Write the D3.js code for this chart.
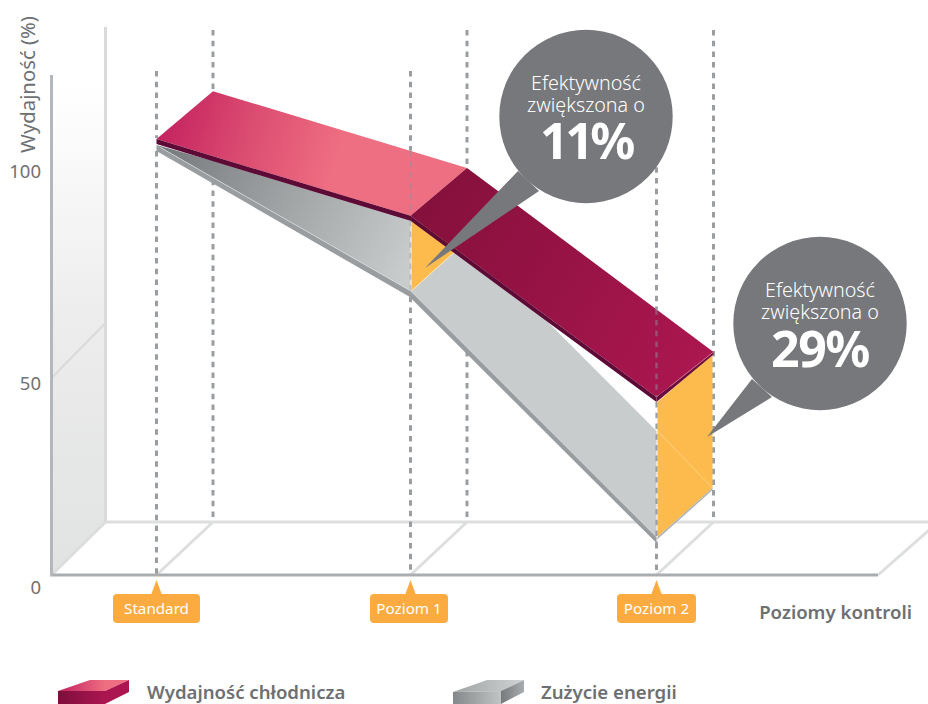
<!DOCTYPE html>
<html><head><meta charset="utf-8">
<script src="https://cdn.jsdelivr.net/npm/d3@7/dist/d3.min.js"></script>
<style>
html,body{margin:0;padding:0;background:#fff}
svg{display:block}
text{font-family:"Noto Sans",sans-serif}
</style></head><body>
<script>
// ---- data ----
const levels = ["Standard", "Poziom 1", "Poziom 2"];
const coolingFront = [104.7, 86.6, 43.6];
const coolingBack  = [116.0, 97.9, 54.5];
const energyFront  = [103.3, 68.9, 9.3];
const energyBack   = [116.3, 80.7, 21.3];
const yTicks = [0, 50, 100];
const bubbles = [
  {line1:"Efektywność", line2:"zwiększona o", pct:"11%"},
  {line1:"Efektywność", line2:"zwiększona o", pct:"29%"}
];
const legendItems = ["Wydajność chłodnicza", "Zużycie energii"];
const xTitle = "Poziomy kontroli", yTitle = "Wydajność (%)";

// ---- layout ----
const W = 928, H = 704;
const x = d3.scaleLinear().domain([0,1,2]).range([156.5,410.5,656.5]);
const xb = d3.scaleLinear().domain([0,1,2]).range([213,467,713.5]);
const y = d3.scaleLinear().domain([0,50,100]).range([575,371,159]);
const wallX = 51.5, wallBackX = 105.5, floorBackY = 522, floorRightX = 878;
const stripC = 5, stripE = 6;
const idx = [0,1,2];

const svg = d3.select("body").append("svg").attr("width",W).attr("height",H).attr("viewBox",`0 0 ${W} ${H}`);
const defs = svg.append("defs");
function grad(id,x1,y1,x2,y2,stops){
  const g = defs.append("linearGradient").attr("id",id).attr("gradientUnits","userSpaceOnUse")
    .attr("x1",x1).attr("y1",y1).attr("x2",x2).attr("y2",y2);
  stops.forEach(s=>g.append("stop").attr("offset",s[0]).attr("stop-color",s[1]));
}
grad("gPink",156,140,330,190,[[0,"#c4225f"],[.45,"#da4a70"],[1,"#ef6f82"]]);
grad("gCrim",411,200,714,370,[[0,"#84103b"],[1,"#ad1750"]]);
grad("gGrey",170,140,410,265,[[0,"#787b7e"],[.55,"#a6a9aa"],[1,"#c8cccc"]]);
grad("gWall",0,85,0,575,[[0,"#ffffff"],[.5,"#ececec"],[1,"#e1e2e2"]]);
grad("gLegR1",58,0,105,0,[[0,"#7d0f3c"],[1,"#ab1650"]]);
grad("gLegR2",60,0,125,0,[[0,"#c4225f"],[.7,"#ef6f82"],[1,"#ef6f82"]]);
grad("gLegG1",453,0,500,0,[[0,"#85888a"],[1,"#c0c3c3"]]);
grad("gLegG2",460,0,524,0,[[0,"#a5a8a9"],[1,"#d0d3d3"]]);
grad("gLegG3",501,0,524,0,[[0,"#777a7d"],[1,"#a9acae"]]);

const poly = (pts,fill,g=svg) => g.append("polygon").attr("points",pts.map(p=>p.join(",")).join(" ")).attr("fill",fill);
const line = (x1,y1,x2,y2,c,w=3) => svg.append("line").attr("x1",x1).attr("y1",y1).attr("x2",x2).attr("y2",y2).attr("stroke",c).attr("stroke-width",w);

// wall
poly([[wallX,85],[wallBackX,85],[wallBackX,floorBackY],[wallX,575]],"url(#gWall)");
line(wallX,378,wallBackX,323,"#d9dada",2);
line(wallBackX,27,wallBackX,floorBackY,"#d9dbdb",3);
// floor
line(wallX,575,wallBackX,floorBackY,"#dcdddd",3);
line(wallBackX,floorBackY,W,floorBackY,"#dddede",3);
line(floorRightX,575,W+1,530,"#dddede",3);
idx.forEach(i=>line(x(i),575,xb(i),floorBackY,"#dddede",3));

// dashed back guides (behind the surfaces)
const dash = (px,y1,y2) => line(px,y1,px,y2,"#9a9ea1",3).attr("stroke-dasharray","5.5 5.2");
idx.forEach(i=>dash(xb(i),30,floorBackY));

// where the energy back edge crosses the front guide of level 2
const energyBackAtL2 = y(energyBack[2]) + (x(2)-xb(2))*(y(energyBack[2])-y(energyBack[1]))/(xb(2)-xb(1));

// energy surface
poly([[x(0),y(energyFront[0])],[x(1),y(coolingFront[1])],[x(1),y(energyFront[1])]],"url(#gGrey)");
poly([[x(1),y(energyFront[1])],[xb(1),y(energyBack[1])],[x(2),energyBackAtL2],[x(2),y(energyFront[2])]],"#c8cccc");
// energy edge strip
poly([[x(0),y(energyFront[0])],[x(1),y(energyFront[1])],[x(2),y(energyFront[2])],[x(2),y(energyFront[2])+stripE],[x(1)-1,y(energyFront[1])+stripE],[x(0),y(energyFront[0])+stripE]],"#9a9d9f");
line(x(0)+4,y(energyFront[0])+2.5,x(1),y(energyFront[1]),"#ffffff",.6).attr("opacity",.7);
line(x(1),y(energyFront[1]),x(2),y(energyFront[2]),"#dfe1e1",.5);

// orange gap faces
const orange = "#fdbb4d";
poly([[x(1)+1,y(coolingFront[1])+stripC],[x(1)+1,y(energyFront[1])],[xb(1),y(energyBack[1])]],orange);
line(x(1)+1,y(energyFront[1]),xb(1),y(energyBack[1]),"#fff2d8",.8);
poly([[x(2)+1,y(coolingFront[2])+stripC],[xb(2)-1,y(coolingBack[2])+2],[xb(2)-1,y(energyBack[2])],[x(2)+1,y(energyFront[2])]],orange);
poly([[x(2)+1,y(energyFront[2])],[xb(2)-1,y(energyBack[2])],[xb(2)-1,y(energyBack[2])+2],[x(2),y(energyFront[2])+3]],"#aeb1b3");
line(x(2)+1,energyBackAtL2,xb(2)-1,y(energyBack[2]),"#ffd88f",.8);

// cooling surface
poly([[x(0),y(coolingFront[0])],[xb(0),y(coolingBack[0])],[xb(1),y(coolingBack[1])],[x(1),y(coolingFront[1])]],"url(#gPink)");
poly([[x(1),y(coolingFront[1])],[xb(1),y(coolingBack[1])],[xb(2),y(coolingBack[2])],[x(2),y(coolingFront[2])]],"url(#gCrim)");
// cooling edge strips
poly([[x(0),y(coolingFront[0])],[x(1),y(coolingFront[1])],[x(2),y(coolingFront[2])],[x(2),y(coolingFront[2])+stripC],[x(1),y(coolingFront[1])+stripC],[x(0),y(coolingFront[0])+stripC]],"#5e0a36");
poly([[x(2),y(coolingFront[2])],[xb(2),y(coolingBack[2])],[xb(2),y(coolingBack[2])+2.5],[x(2),y(coolingFront[2])+stripC]],"#6b0d3c");
line(x(2)+14,y(coolingFront[2])-11,xb(2),y(coolingBack[2]),"#cf6b8d",1);

// front dashed guides on top
const backEdgeAt = i => {
  const t = (x(i)-xb(i-1))/(xb(i)-xb(i-1));
  return y(coolingBack[i-1]) + t*(y(coolingBack[i])-y(coolingBack[i-1]));
};
idx.forEach(i=>{
  dash(x(i),71,i===0 ? y(coolingFront[0])-1 : backEdgeAt(i));
  dash(x(i),y(energyFront[i])+stripE,575);
});
[1,2].forEach(i=>line(x(i),backEdgeAt(i),x(i),y(coolingFront[i]),"#8f8f9f",2.4).attr("stroke-dasharray","5.5 5.2").attr("opacity",.5));
dash(x(2),y(coolingFront[2])+stripC,y(energyFront[2])+stripE).attr("stroke-width",2.2);
dash(x(1),y(coolingFront[1])+stripC,y(energyFront[1])).attr("stroke-width",1.6).attr("opacity",.6);

// floor front & left axis
line(wallX-1.5,575,floorRightX,575,"#a9adb0",3);
line(wallX,75,wallX,576,"#b3b7b9",3);

// y ticks
svg.append("g").selectAll("text").data(yTicks).join("text")
  .attr("x",41).attr("y",d=>y(d)+18.5).attr("text-anchor","end")
  .attr("font-size",18.5).attr("fill","#6f7174").text(d=>d);
svg.append("text").attr("transform","translate(34.5,84.5) rotate(-90)").attr("text-anchor","middle")
  .attr("font-size",20.3).attr("fill","#6d7075").text(yTitle);

// category flags
const flagW = [87,78,79];
const flagCx = [156.5,409,656.5];
levels.forEach((l,i)=>{
  poly([[x(i),580],[x(i)+5.5,595],[x(i)-5.5,595]],"#fcab40");
  svg.append("rect").attr("x",flagCx[i]-flagW[i]/2).attr("y",594).attr("width",flagW[i]).attr("height",29).attr("rx",4).attr("fill","#fcab40");
  svg.append("text").attr("x",flagCx[i]).attr("y",614).attr("text-anchor","middle").attr("font-size",15.2).attr("fill","#fff").text(l);
});
svg.append("text").attr("x",912).attr("y",619).attr("text-anchor","end").attr("font-size",18.6).attr("font-weight",600).attr("fill","#6d6f72").text(xTitle);

// bubbles
const bubbleGeom = [
  {cx:586,cy:116.5,r:86.7,a:[518,171],b:[539,191],ls:-3.5,dy:42.5},
  {cx:820,cy:323.5,r:86.7,a:[752,379],b:[772,397],ls:-1.5,dy:43.5}
];
const bubbleTip = [[425,268],[707,437]];
bubbles.forEach((b,i)=>{
  const g = bubbleGeom[i];
  svg.append("circle").attr("cx",g.cx).attr("cy",g.cy).attr("r",g.r).attr("fill","#77787b");
  poly([g.a,g.b,bubbleTip[i]],"#77787b");
  const t=(s,dy,fs,w)=>svg.append("text").attr("x",g.cx).attr("y",g.cy+dy).attr("text-anchor","middle").attr("font-size",fs).attr("font-weight",w).attr("fill","#fff").text(s);
  t(b.line1,-26.5,19.7,300);
  t(b.line2,-4.5,19.7,300);
  t(b.pct,g.dy,50,700).attr("letter-spacing",g.ls);
});

// legend
poly([[58,691],[90,680],[129,680],[105,691]],"url(#gLegR2)");
poly([[58,691],[105,691],[105,704],[58,704]],"url(#gLegR1)");
poly([[105,691],[129,680],[129,692],[105,704]],"url(#gLegR1)");
poly([[453,692],[487,680],[524,680],[501,691]],"url(#gLegG2)");
poly([[453,692],[501,691],[501,704],[453,704]],"url(#gLegG1)");
poly([[501,691],[524,680],[524,692],[501,704]],"url(#gLegG3)");
svg.append("text").attr("x",147).attr("y",698.5).attr("font-size",18.6).attr("font-weight",600).attr("fill","#6d6f72").text(legendItems[0]);
svg.append("text").attr("x",541).attr("y",698.5).attr("font-size",18.6).attr("font-weight",600).attr("fill","#6d6f72").text(legendItems[1]);
</script></body></html>
